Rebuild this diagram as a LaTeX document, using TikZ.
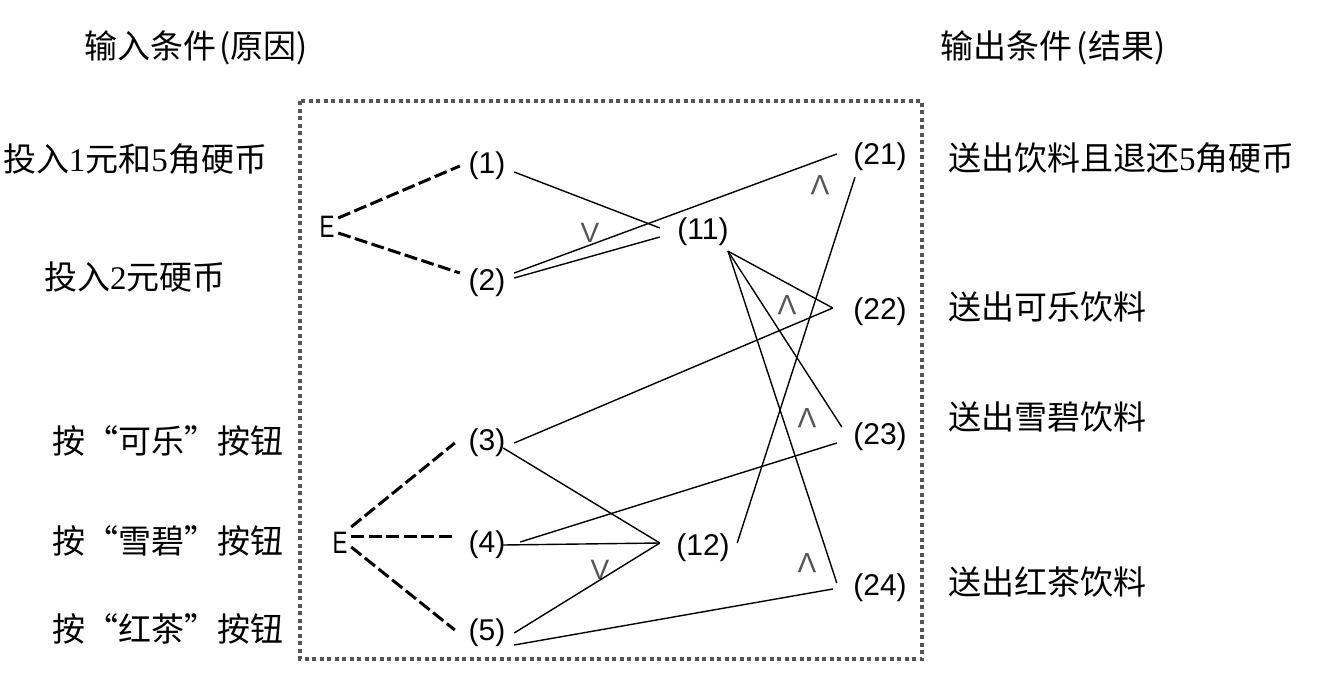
\documentclass[tikz,border=0pt]{standalone}
\usepackage{fontspec}
\usepackage{graphicx}
\setmainfont{Liberation Serif}
\newfontfamily\cjk{Noto Sans CJK SC}
\newfontfamily\labsans{Liberation Sans}
\definecolor{bordergray}{RGB}{85,85,85}
\definecolor{opgray}{RGB}{85,85,85}
\tikzset{
  txt/.style={inner sep=0pt, font=\fontsize{33pt}{39pt}\selectfont},
  lab/.style={inner sep=0pt, font=\labsans\fontsize{30pt}{34pt}\selectfont, minimum width=54pt, minimum height=30pt},
  labw/.style={lab, minimum width=86pt, minimum height=38pt},
  labr/.style={lab, minimum width=86pt, minimum height=40pt},
  evar/.style={inner sep=0pt, font=\labsans\fontsize{31pt}{34pt}\selectfont, minimum width=22pt},
  opsym/.style={inner sep=0pt, text=opgray, font=\labsans\fontsize{28pt}{32pt}\selectfont},
  link/.style={draw=black, line width=1.4pt},
  dashlink/.style={draw=black, line width=3pt, dash pattern=on 13pt off 4.5pt},
  frame/.style={draw=bordergray, line width=4.5pt, dash pattern=on 4pt off 3.5pt}
}
\begin{document}
\begin{tikzpicture}[x=1pt,y=-1pt]
\useasboundingbox (0,0) rectangle (1317,677);
\draw[frame] (300,101) rectangle (922,659);

% headings
\node[txt] (hin) at (196,48) {\cjk 输入条件\hspace{3pt}(原因)};
\node[txt] (hout) at (1053,48) {\cjk 输出条件\hspace{4pt}(结果)};

% causes
\node[txt] (in1) at (135,159) {{\cjk 投入}1{\cjk 元和}5{\cjk 角硬币}};
\node[txt] (in2) at (135,277) {{\cjk 投入}2{\cjk 元硬币}};
\node[txt] (in3) at (168,441) {\cjk 按“可乐”按钮};
\node[txt] (in4) at (168,541) {\cjk 按“雪碧”按钮};
\node[txt] (in5) at (168,629) {\cjk 按“红茶”按钮};

% effects
\node[txt, anchor=west] (out1) at (948,158) {{\cjk 送出饮料且退还}5{\cjk 角硬币}};
\node[txt, anchor=west] (out2) at (948,307) {\cjk 送出可乐饮料};
\node[txt, anchor=west] (out3) at (948,417) {\cjk 送出雪碧饮料};
\node[txt, anchor=west] (out4) at (948,582) {\cjk 送出红茶饮料};

% graph nodes
\node[evar] (eA) at (327,227) {\scalebox{0.72}[1]{E}};
\node[evar] (eB) at (340,543) {\scalebox{0.72}[1]{E}};
\node[lab] (n1) at (487,166) {(1)};
\node[lab] (n2) at (487,283) {(2)};
\node[lab] (n3) at (487,443) {(3)};
\node[lab] (n4) at (487,545) {(4)};
\node[lab] (n5) at (487,633) {(5)};
\node[labw] (n11) at (703,232) {(11)};
\node[labw] (n12) at (703,548) {(12)};
\node[labr] (n21) at (880,157) {(21)};
\node[labr] (n22) at (880,312) {(22)};
\node[labr] (n23) at (880,437) {(23)};
\node[labr] (n24) at (880,588) {(24)};

% operator marks
\node[opsym] (orA) at (590,233) {V};
\node[opsym] (orB) at (600,570) {V};
\node[opsym, rotate=180] (andA) at (820,185) {V};
\node[opsym, rotate=180] (andB) at (787,305) {V};
\node[opsym, rotate=180] (andC) at (807,418) {V};
\node[opsym, rotate=180] (andD) at (807,563) {V};

% exclusive constraints (dashed)
\draw[dashlink] ([yshift=9pt]eA.east) -- (n1.west);
\draw[dashlink] ([yshift=-6pt]eA.east) -- ([yshift=10pt]n2.west);
\draw[dashlink] ([yshift=16pt]eB.east) -- ([xshift=-5pt]n3.west);
\draw[dashlink] ([yshift=7pt]eB.east) -- ([xshift=-8pt,yshift=9pt]n4.west);
\draw[dashlink] ([yshift=-4pt]eB.east) -- ([xshift=-5pt,yshift=3pt]n5.west);

% causal links
\draw[link] ([yshift=-6pt]n1.east) -- ([yshift=4pt]n11.west);
\draw[link] ([yshift=5pt]n2.east) -- ([yshift=-5pt]n11.west);
\draw[link] ([yshift=10pt]n2.east) -- ([yshift=3pt]n21.west);
\draw[link] ([xshift=25pt]n11.south) -- ([xshift=-4pt,yshift=4pt]n22.west);
\draw[link] ([xshift=25pt]n11.south) -- ([xshift=5pt,yshift=10pt]n23.west);
\draw[link] ([xshift=25pt]n11.south) -- ([yshift=5pt]n24.west);
\draw[link] ([xshift=-9pt,yshift=5pt]n12.east) -- ([xshift=-25pt]n21.south);
\draw[link] (n3.east) -- ([xshift=-4pt,yshift=4pt]n22.west);
\draw[link] ([xshift=-11pt,yshift=-5pt]n3.east) -- ([yshift=5pt]n12.west);
\draw[link] ([xshift=-11pt]n4.east) -- ([yshift=5pt]n12.west);
\draw[link] ([xshift=6pt,yshift=3pt]n4.east) -- ([yshift=-6pt]n23.west);
\draw[link] (n5.east) -- ([yshift=5pt]n12.west);
\draw[link] ([yshift=-12pt]n5.east) -- ([xshift=-4pt,yshift=-1pt]n24.west);
\end{tikzpicture}
\end{document}
